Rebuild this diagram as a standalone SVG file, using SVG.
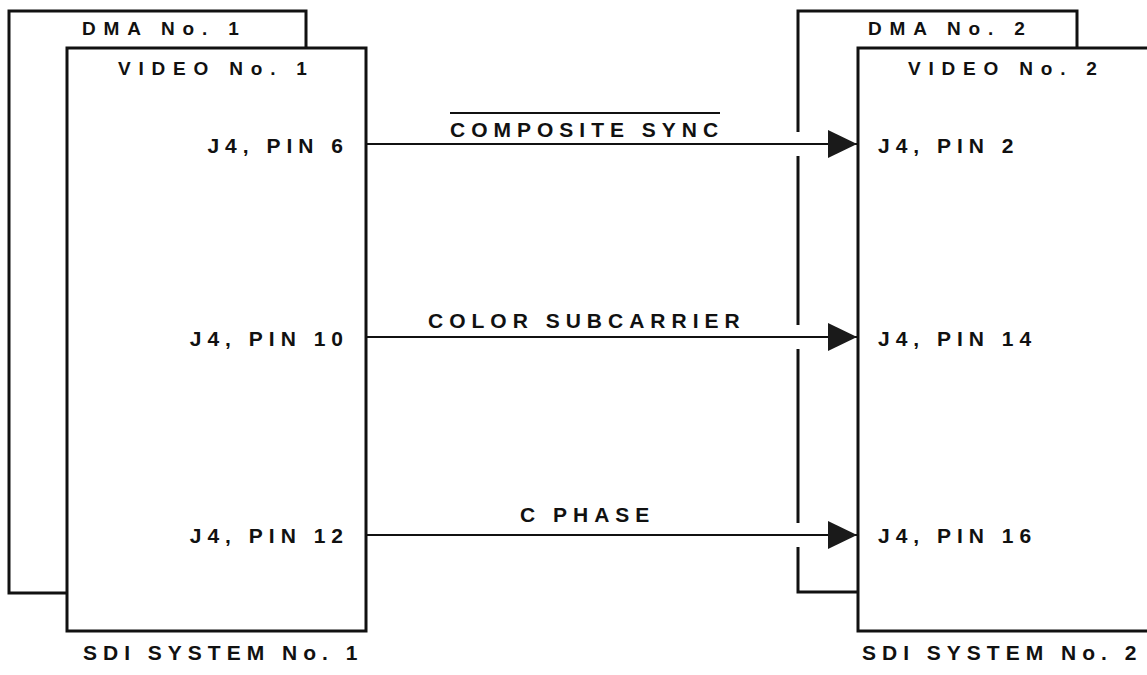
<svg xmlns="http://www.w3.org/2000/svg" width="1147" height="675" viewBox="0 0 1147 675">
  <style>
    .box { fill: #fff; stroke: #111; stroke-width: 3; }
    .edge { fill: none; stroke: #111; stroke-width: 3; }
    .wire { fill: none; stroke: #111; stroke-width: 2; }
    .t { font-family: "Liberation Sans", Arial, sans-serif; font-weight: bold; font-size: 21px; letter-spacing: 6px; fill: #111; }
    .h { font-family: "Liberation Sans", Arial, sans-serif; font-weight: bold; font-size: 19px; letter-spacing: 7.8px; fill: #111; }
  </style>
  <defs>
    <marker id="arr" markerUnits="userSpaceOnUse" markerWidth="30" markerHeight="30" refX="29" refY="14" orient="auto">
      <path d="M0,0 L29,14 L0,28 Z" fill="#1a1a1a"/>
    </marker>
  </defs>
  <rect width="1147" height="675" fill="#fff"/>

  <g id="dma1">
    <rect class="box" x="9" y="11" width="297" height="582"/>
    <text class="h" x="82" y="35">DMA No. 1</text>
  </g>
  <g id="video1">
    <rect class="box" x="67" y="48" width="299" height="583"/>
    <text class="h" x="118" y="75">VIDEO No. 1</text>
    <text class="t" x="349" y="153" text-anchor="end">J4, PIN 6</text>
    <text class="t" x="349" y="346" text-anchor="end">J4, PIN 10</text>
    <text class="t" x="349" y="543" text-anchor="end">J4, PIN 12</text>
  </g>
  <g id="system1">
    <text class="t" x="83" y="660">SDI SYSTEM No. 1</text>
  </g>

  <g id="dma2">
    <path class="edge" d="M798,132 V11 H1077 V48"/>
    <path class="edge" d="M798,156 V325"/>
    <path class="edge" d="M798,349 V523"/>
    <path class="edge" d="M798,547 V592 H858"/>
    <text class="h" x="868" y="35">DMA No. 2</text>
  </g>
  <g id="video2">
    <rect class="box" x="858" y="48" width="310" height="583"/>
    <text class="h" x="908" y="75">VIDEO No. 2</text>
    <text class="t" x="878" y="153">J4, PIN 2</text>
    <text class="t" x="878" y="346">J4, PIN 14</text>
    <text class="t" x="878" y="543">J4, PIN 16</text>
  </g>
  <g id="system2">
    <text class="t" x="862" y="660">SDI SYSTEM No. 2</text>
  </g>

  <g id="connectors">
    <line class="wire" x1="366" y1="144" x2="857" y2="144" marker-end="url(#arr)"/>
    <line class="wire" x1="366" y1="337" x2="857" y2="337" marker-end="url(#arr)"/>
    <line class="wire" x1="366" y1="535" x2="857" y2="535" marker-end="url(#arr)"/>
    <line class="wire" x1="450" y1="113" x2="720" y2="113"/>
    <text class="t" x="450" y="137">COMPOSITE SYNC</text>
    <text class="t" x="428" y="328">COLOR SUBCARRIER</text>
    <text class="t" x="520" y="522">C PHASE</text>
  </g>
</svg>
